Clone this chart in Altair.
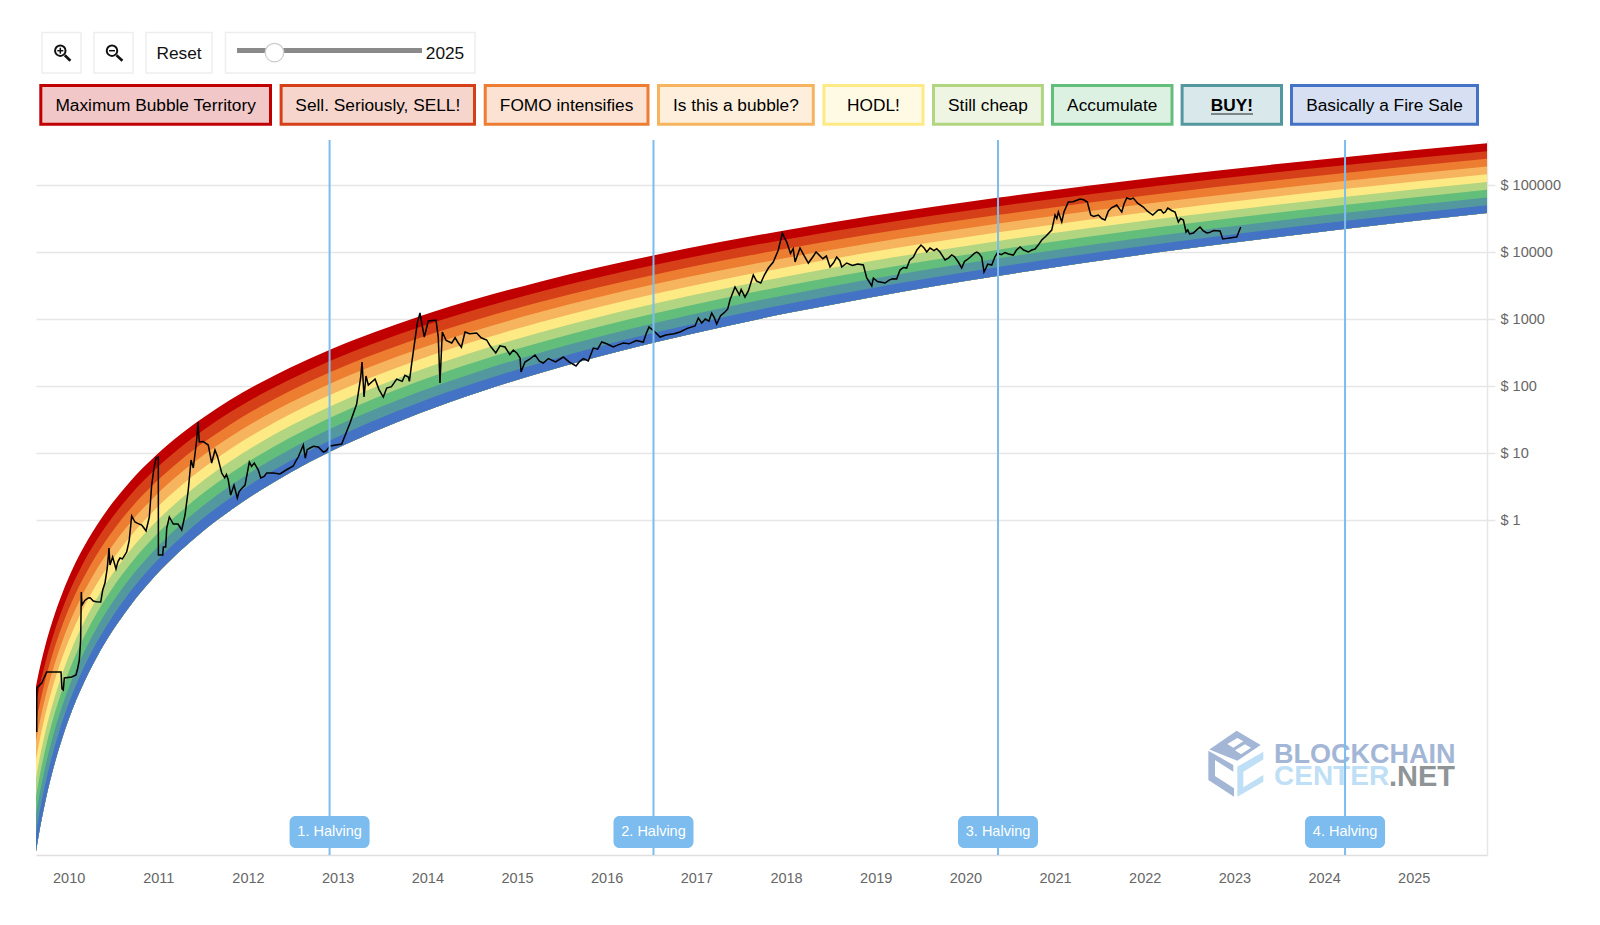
import altair as alt
import pandas as pd

# ---------- rainbow band edges: log10(price) read at these dates ----------
band_years = [2009.636,2009.658,2009.680,2009.714,2009.747,2009.792,2009.848,2009.937,2010.037,2010.126,2010.316,2010.494,2010.684,2010.963,2011.242,2011.520,2011.799,2012.134,2012.468,2012.914,2013.416,2013.918,2014.588,2015.257,2015.892,2016.517,2017.264,2018.045,2018.937,2020.353,2022.171,2024.223,2025.817]
edge0 = [-2.481,-2.333,-2.196,-2.006,-1.834,-1.625,-1.390,-1.066,-.751,-.509,-.073,.264,.573,.952,1.272,1.546,1.790,2.046,2.273,2.543,2.807,3.042,3.316,3.558,3.764,3.948,4.148,4.337,4.533,4.810,5.118,5.416,5.622]
edge1 = [-2.755,-2.603,-2.463,-2.268,-2.092,-1.877,-1.637,-1.305,-.984,-.737,-.292,.052,.367,.753,1.079,1.359,1.607,1.868,2.099,2.374,2.642,2.881,3.160,3.406,3.616,3.803,4.006,4.199,4.399,4.680,4.994,5.297,5.506]
edge2 = [-3.029,-2.874,-2.730,-2.530,-2.349,-2.129,-1.884,-1.545,-1.216,-.964,-.510,-.160,.161,.555,.886,1.171,1.423,1.689,1.925,2.204,2.477,2.721,3.005,3.255,3.468,3.658,3.865,4.061,4.264,4.551,4.869,5.178,5.391]
edge3 = [-3.303,-3.144,-2.996,-2.792,-2.607,-2.382,-2.131,-1.784,-1.449,-1.192,-.729,-.372,-.045,.356,.693,.984,1.240,1.511,1.751,2.035,2.313,2.560,2.849,3.103,3.320,3.514,3.723,3.923,4.130,4.421,4.745,5.059,5.275]
edge4 = [-3.577,-3.414,-3.263,-3.054,-2.864,-2.634,-2.378,-2.023,-1.682,-1.419,-.947,-.584,-.251,.157,.500,.796,1.057,1.332,1.577,1.865,2.148,2.400,2.693,2.952,3.172,3.369,3.582,3.785,3.995,4.291,4.620,4.940,5.160]
edge5 = [-3.852,-3.685,-3.530,-3.316,-3.122,-2.886,-2.625,-2.263,-1.914,-1.647,-1.166,-.796,-.458,-.042,.307,.609,.873,1.154,1.403,1.696,1.983,2.239,2.537,2.800,3.024,3.224,3.440,3.647,3.861,4.162,4.496,4.821,5.044]
edge6 = [-4.126,-3.955,-3.797,-3.578,-3.379,-3.138,-2.871,-2.502,-2.147,-1.874,-1.385,-1.007,-.664,-.240,.115,.422,.690,.976,1.228,1.526,1.818,2.079,2.382,2.648,2.877,3.079,3.299,3.509,3.726,4.032,4.372,4.701,4.928]
edge7 = [-4.400,-4.225,-4.064,-3.840,-3.637,-3.390,-3.118,-2.741,-2.380,-2.102,-1.603,-1.219,-.870,-.439,-.078,.234,.507,.797,1.054,1.357,1.653,1.918,2.226,2.497,2.729,2.934,3.157,3.371,3.592,3.902,4.247,4.582,4.813]
edge8 = [-4.674,-4.495,-4.330,-4.102,-3.894,-3.643,-3.365,-2.980,-2.613,-2.329,-1.822,-1.431,-1.076,-.638,-.271,.047,.324,.619,.880,1.187,1.489,1.758,2.070,2.345,2.581,2.790,3.016,3.233,3.457,3.772,4.123,4.463,4.697]
edge9 = [-4.948,-4.766,-4.597,-4.364,-4.152,-3.895,-3.612,-3.220,-2.845,-2.557,-2.040,-1.643,-1.282,-.836,-.464,-.140,.140,.440,.706,1.018,1.324,1.597,1.915,2.194,2.433,2.645,2.875,3.096,3.323,3.643,3.999,4.344,4.582]

band_labels = ["Maximum Bubble Territory","Sell. Seriously, SELL!","FOMO intensifies","Is this a bubble?","HODL!","Still cheap","Accumulate","BUY!","Basically a Fire Sale"]
band_colors = ["#c00000","#d64018","#ed7d31","#f6b45e","#feea84","#b1d580","#63be7b","#54989f","#4472c4"]

# ---------- price: date and log10(price) ----------
price_years = [2009.644,2009.645,2009.700,2009.755,2009.915,2009.926,2009.940,2009.952,2010.034,2010.082,2010.097,2010.119,2010.134,2010.141,2010.149,2010.219,2010.275,2010.358,2010.380,2010.405,2010.431,2010.450,2010.461,2010.491,2010.528,2010.573,2010.647,2010.676,2010.703,2010.740,2010.815,2010.863,2010.900,2010.926,2010.952,2010.974,2011.000,2011.001,2011.049,2011.056,2011.082,2011.094,2011.123,2011.167,2011.220,2011.261,2011.298,2011.334,2011.365,2011.390,2011.428,2011.443,2011.457,2011.557,2011.595,2011.632,2011.707,2011.780,2011.807,2011.844,2011.881,2011.967,2012.015,2012.115,2012.142,2012.209,2012.357,2012.505,2012.561,2012.617,2012.639,2012.692,2012.784,2012.840,2012.915,2013.045,2013.138,2013.212,2013.257,2013.272,2013.294,2013.316,2013.342,2013.417,2013.509,2013.547,2013.658,2013.788,2013.826,2013.888,2013.918,2013.966,2014.011,2014.097,2014.122,2014.141,2014.167,2014.272,2014.345,2014.420,2014.550,2014.662,2014.763,2014.866,2014.959,2015.034,2015.045,2015.089,2015.201,2015.293,2015.516,2015.658,2015.795,2015.851,2015.945,2016.074,2016.185,2016.409,2016.472,2016.539,2016.595,2016.818,2016.985,2017.022,2017.060,2017.171,2017.227,2017.319,2017.375,2017.431,2017.542,2017.635,2017.718,2017.803,2017.858,2017.914,2017.959,2018.008,2018.101,2018.156,2018.249,2018.335,2018.491,2018.565,2018.621,2018.677,2018.862,2018.900,2018.956,2018.974,2019.104,2019.234,2019.271,2019.346,2019.420,2019.505,2019.569,2019.606,2019.717,2019.773,2019.848,2019.921,2019.959,2020.015,2020.127,2020.182,2020.208,2020.294,2020.356,2020.442,2020.535,2020.610,2020.702,2020.777,2020.852,2020.963,2021.000,2021.037,2021.075,2021.148,2021.279,2021.360,2021.398,2021.483,2021.558,2021.595,2021.688,2021.744,2021.800,2021.873,2021.985,2022.090,2022.152,2022.208,2022.257,2022.338,2022.375,2022.431,2022.461,2022.542,2022.617,2022.692,2022.840,2022.870,2023.026,2023.071]
price_logs = [-3.164,-2.507,-2.433,-2.269,-2.269,-2.522,-2.537,-2.358,-2.343,-2.313,-2.239,-2.090,-1.791,-1.075,-1.269,-1.164,-1.209,-1.224,-1.045,-.940,-.716,-.418,-.672,-.552,-.731,-.567,-.478,-.299,.060,-.030,-.075,-.164,.045,.522,.776,.925,.940,-.522,-.522,-.403,-.403,-.119,.045,-.060,-.060,-.149,.075,.448,.896,.776,1.194,1.463,1.164,1.119,.851,1.045,.701,.597,.373,.522,.328,.522,.866,.746,.627,.701,.687,.806,.940,1.119,.925,1.075,1.090,1.015,1.104,1.134,1.448,1.731,2.134,2.358,1.836,2.149,2.015,2.104,1.836,1.970,2.104,2.134,2.343,2.940,3.090,2.731,2.970,2.985,2.731,2.045,2.806,2.642,2.642,2.806,2.791,2.687,2.493,2.582,2.537,2.418,2.209,2.358,2.463,2.343,2.433,2.299,2.373,2.567,2.657,2.582,2.642,2.657,2.881,2.806,2.731,2.806,2.896,3.015,2.940,3.090,2.925,3.104,3.284,3.478,3.328,3.657,3.537,3.761,3.851,4.030,4.284,4.149,3.851,4.060,3.836,4.000,3.776,3.925,3.776,3.836,3.806,3.612,3.493,3.612,3.537,3.597,3.731,3.761,3.925,4.104,4.000,4.060,4.000,3.881,3.955,3.851,3.761,3.881,4.000,3.925,3.701,3.806,3.985,3.993,3.955,4.075,4.000,4.045,4.179,4.328,4.552,4.597,4.448,4.746,4.791,4.746,4.552,4.552,4.478,4.612,4.701,4.597,4.806,4.806,4.672,4.552,4.627,4.582,4.657,4.597,4.448,4.478,4.299,4.284,4.373,4.284,4.313,4.194,4.224,4.373]
# finer wiggles of the same line, read between the points above
detail_years = [2010.18,2010.24,2010.31,2010.55,2010.60,2010.66,2010.77,2010.84,2011.50,2011.66,2011.74,2011.76,2011.90,2011.93,2012.04,2012.07,2012.18,2012.28,2012.43,2012.53,2012.66,2012.73,2012.87,2013.46,2013.60,2013.72,2013.75,2013.80,2014.21,2014.31,2014.38,2014.47,2014.60,2014.70,2014.81,2014.92,2015.00,2015.14,2015.25,2015.35,2015.43,2015.58,2015.70,2015.74,2015.90,2016.00,2016.12,2016.25,2016.33,2016.44,2016.66,2016.75,2016.90,2017.10,2017.14,2017.20,2017.27,2017.35,2017.48,2017.50,2017.58,2017.67,2017.76,2017.98,2018.05,2018.08,2018.20,2018.30,2018.41,2018.45,2018.53,2018.60,2018.74,2018.80,2018.93,2019.02,2019.15,2019.19,2019.31,2019.38,2019.46,2019.54,2019.65,2019.68,2019.75,2019.81,2019.88,2019.99,2020.06,2020.10,2020.15,2020.25,2020.33,2020.40,2020.48,2020.57,2020.65,2020.74,2020.81,2020.90,2021.02,2021.10,2021.20,2021.32,2021.43,2021.52,2021.63,2021.72,2021.77,2021.84,2021.92,2022.03,2022.12,2022.18,2022.23,2022.30,2022.40,2022.48,2022.50,2022.58,2022.65,2022.72,2022.77,2022.90,2022.95,2023.00]
detail_logs = [-1.20,-1.16,-1.22,-.62,-.58,-.40,-.05,-.12,1.17,.95,.63,.68,.42,.47,.80,.85,.65,.70,.75,.87,1.05,1.10,1.03,1.95,1.99,2.07,2.16,2.07,2.68,2.72,2.58,2.78,2.72,2.60,2.60,2.47,2.49,2.40,2.37,2.41,2.36,2.36,2.37,2.41,2.55,2.63,2.61,2.63,2.68,2.78,2.76,2.78,2.86,3.00,2.97,3.02,3.05,3.15,3.36,3.44,3.42,3.57,3.66,4.22,3.98,4.05,3.95,3.93,3.90,3.94,3.84,3.87,3.80,3.82,3.55,3.56,3.58,3.60,3.77,3.88,4.03,4.06,4.02,4.05,3.93,3.91,3.93,3.86,3.93,3.98,3.98,3.82,3.93,3.96,3.97,4.03,4.03,4.03,4.10,4.24,4.50,4.60,4.75,4.78,4.53,4.50,4.66,4.64,4.72,4.79,4.73,4.61,4.59,4.63,4.60,4.62,4.50,4.33,4.27,4.33,4.32,4.29,4.32,4.20,4.21,4.22]

halving_years = [2012.910,2016.522,2020.364,2024.234]
halving_labels = ["1. Halving","2. Halving","3. Halving","4. Halving"]
year_ticks = list(range(2010, 2026))
price_ticks = [1,10,100,1000,10000,100000]

FONT = "Liberation Sans"
W, H = 1451, 715
OX, OY = 36, 140   # page position of the plot origin

edges = [edge0,edge1,edge2,edge3,edge4,edge5,edge6,edge7,edge8,edge9]
rows = []
for i, lab in enumerate(band_labels):
    for j, yr in enumerate(band_years):
        rows.append({"band": lab, "year": yr, "hi": 10**edges[i][j], "lo": 10**edge9[j]})
bands_df = pd.DataFrame(rows)
price_df = pd.DataFrame({"year": price_years + detail_years,
                         "price": [10**v for v in price_logs + detail_logs]})
halv_df = pd.DataFrame({"year": halving_years, "label": halving_labels})

x_scale = alt.Scale(domain=[2009.636, 2025.817], nice=False, zero=False)
y_scale = alt.Scale(type="log", domain=[1e-5, 4.7e5], nice=False)
x_axis = alt.Axis(values=year_ticks, format="d", grid=False, ticks=False, title=None,
                  domainColor="#dfdfdf", domainWidth=1.5, labelFont=FONT, labelFontSize=14.5,
                  labelColor="#666666", labelPadding=16, labelOverlap=False, labelFlush=False)
y_axis = alt.Axis(values=price_ticks, orient="right", title=None, grid=True, gridColor="#e6e6e6",
                  gridWidth=1.5, tickColor="#e6e6e6", tickSize=8, tickWidth=1.5, domainColor="#e6e6e6",
                  domainWidth=1.5, labelFont=FONT, labelFontSize=14.5, labelColor="#666666",
                  labelPadding=5, labelExpr="'$ ' + datum.value", labelOverlap=False)
X = alt.X("year:Q", scale=x_scale, axis=x_axis)
Y = alt.Y("price:Q", scale=y_scale, axis=y_axis)

layers = []
layers.append(alt.Chart(bands_df).mark_area(interpolate="monotone", clip=True).encode(
    x=X,
    y=alt.Y("hi:Q", scale=y_scale, axis=y_axis),
    y2="lo:Q",
    color=alt.Color("band:N", scale=alt.Scale(domain=band_labels, range=band_colors), legend=None, sort=None),
))


def px(x):
    return x - OX


def py(y):
    return y - OY


one = pd.DataFrame({"k": [0]})


def text(label, x, y, size=17.3, color="#111111", align="center", weight="normal"):
    d = pd.DataFrame({"label": [label]})
    return alt.Chart(d).mark_text(font=FONT, fontSize=size, color=color, align=align, baseline="middle",
                                  fontWeight=weight).encode(
        x=alt.value(px(x)), y=alt.value(py(y)), text="label:N")


def rect(x0, x1, y0, y1, **kw):
    return alt.Chart(one).mark_rect(**kw).encode(
        x=alt.value(px(x0)), x2=alt.value(px(x1)), y=alt.value(py(y0)), y2=alt.value(py(y1)))


def seg(x0, y0, x1, y1, color, width):
    return alt.Chart(one).mark_rule(color=color, strokeWidth=width).encode(
        x=alt.value(px(x0)), x2=alt.value(px(x1)), y=alt.value(py(y0)), y2=alt.value(py(y1)))


def shape(path, cx, cy, size, color):
    return alt.Chart(one).mark_point(shape=path, filled=True, size=size, color=color, opacity=1).encode(
        x=alt.value(px(cx)), y=alt.value(py(cy)))


# watermark logo
cube_top = "M-.778,-.434L.051,-1L.778,-.566L.071,-.091Z"
cube_gap = "M-.232,-.596L.071,-.778L.253,-.677L-.051,-.485ZM0,-.404L.303,-.586L.485,-.485L.182,-.283Z"
cube_left = "M-.808,-.394L-.051,.04L-.051,.242L-.606,-.111L-.606,.374L-.03,.747L-.03,1L-.808,.495Z"
cube_right = "M.071,.091L.859,-.364L.859,-.131L.253,.242L.253,.717L.859,.343L.859,.545L.071,1Z"
layers += [
    shape(cube_top, 1235, 763.7, 4356, "#a3b6d6"),
    shape(cube_gap, 1235, 763.7, 4356, "#ffffff"),
    shape(cube_left, 1235, 763.7, 4356, "#a3b6d6"),
    shape(cube_right, 1235, 763.7, 4356, "#bfdff6"),
    text("BLOCKCHAIN", 1274, 754.5, size=27, color="#a3b6d6", align="left", weight="bold"),
    text("CENTER", 1274, 776.5, size=28, color="#bfdff6", align="left", weight="bold"),
    text(".NET", 1455, 776.5, size=29, color="#8f9496", align="right", weight="bold"),
]

# price
layers.append(alt.Chart(price_df).mark_line(color="#000000", strokeWidth=1.5).encode(x=X, y=Y))

# halvings
layers.append(alt.Chart(halv_df).mark_rule(color="#7cbcee", strokeWidth=2).encode(
    x=X, y=alt.value(0), y2=alt.value(H)))
layers.append(alt.Chart(halv_df).mark_rect(color="#7cbcee", width=80, cornerRadius=6).encode(
    x=X, y=alt.value(py(816)), y2=alt.value(py(848))))
layers.append(alt.Chart(halv_df).mark_text(font=FONT, fontSize=14.5, color="#ffffff", baseline="middle").encode(
    x=X, y=alt.value(py(832)), text="label:N"))

# toolbar
box_lefts = [42, 94, 146, 225.5]
box_rights = [81, 133, 212, 475]
for a, b in zip(box_lefts, box_rights):
    layers.append(rect(a, b, 32.5, 73, fill="#ffffff", stroke="#eeeeee", strokeWidth=1.5))
for cx, end in zip([60.3, 112], [70.4, 122.4]):
    layers.append(alt.Chart(one).mark_point(shape="circle", size=110, filled=False, color="#111111",
                                            strokeWidth=2, opacity=1).encode(
        x=alt.value(px(cx)), y=alt.value(py(50.7))))
    layers.append(seg(cx + 4.5, 55.2, end, 60.7, "#111111", 2.6))
    layers.append(seg(cx - 3, 50.7, cx + 3, 50.7, "#111111", 1.5))
layers.append(seg(60.3, 47.7, 60.3, 53.7, "#111111", 1.5))
layers.append(text("Reset", 179, 53.5))
layers.append(seg(237, 50.5, 422, 50.5, "#8a8a8a", 5))
layers.append(alt.Chart(one).mark_point(shape="circle", size=346, filled=True, fill="#ffffff", stroke="#cccccc",
                                        strokeWidth=1.2, opacity=1).encode(
    x=alt.value(px(274.5)), y=alt.value(py(52.6))))
layers.append(text("2025", 445, 53.5))

# legend buttons
btn_lefts = [39.3, 279.6, 483.7, 657, 822.4, 932, 1051, 1180.6, 1290]
btn_rights = [272, 476, 649.5, 814.8, 924.5, 1043.9, 1173.5, 1283, 1479]
for lab, col, a, b in zip(band_labels, band_colors, btn_lefts, btn_rights):
    layers.append(rect(a + 1.5, b - 1.5, 85.5, 124.2, fill=col, fillOpacity=0.22, stroke=col, strokeWidth=3))
    layers.append(text(lab, (a + b) / 2, 106, color="#000000", weight="bold" if lab == "BUY!" else "normal"))
layers.append(seg(1211, 114, 1253, 114, "#222222", 1.2))

chart = alt.layer(*layers).properties(
    width=W, height=H,
    padding={"left": 28, "top": 132, "right": 105, "bottom": 53},
    autosize=alt.AutoSizeParams(type="none"),
    background="#ffffff",
).configure_view(stroke=None)

chart.save("out.html", embed_options={"renderer": "svg", "actions": False})
